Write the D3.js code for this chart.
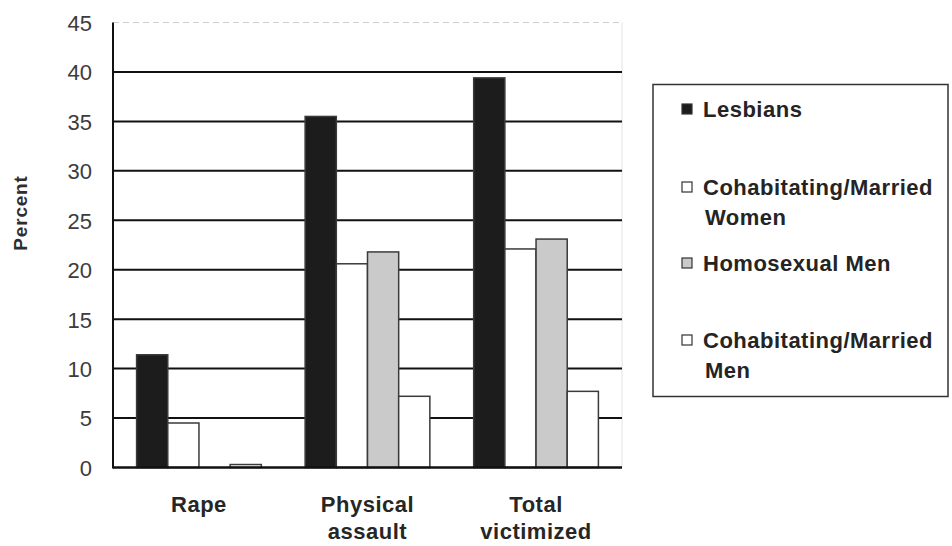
<!DOCTYPE html>
<html>
<head>
<meta charset="utf-8">
<script src="https://cdn.jsdelivr.net/npm/d3@7/dist/d3.min.js"></script>
<style>
  html, body { margin: 0; padding: 0; background: #fff; }
  svg { display: block; }
  .tick text { font-family: "Liberation Sans", Arial, sans-serif; }
</style>
</head>
<body>
<svg id="chart" width="952" height="546"></svg>
<script>
// Victimization by partner type, percent
const categories = ["Rape", "Physical assault", "Total victimized"];
const categoryLines = [["Rape"], ["Physical", "assault"], ["Total", "victimized"]];
const seriesNames = ["Lesbians", "Cohabitating/Married Women", "Homosexual Men", "Cohabitating/Married Men"];
const legendLines = [["Lesbians"], ["Cohabitating/Married", "Women"], ["Homosexual Men"], ["Cohabitating/Married", "Men"]];
const lesbians = [11.4, 35.5, 39.4];
const cohabWomen = [4.5, 20.6, 22.1];
const homosexualMen = [0, 21.8, 23.1];
const cohabMen = [0.3, 7.2, 7.7];
const yTicks = [0, 5, 10, 15, 20, 25, 30, 35, 40, 45];
const seriesValues = [lesbians, cohabWomen, homosexualMen, cohabMen];
const seriesFill = ["#1c1c1c", "#ffffff", "#cacaca", "#ffffff"];

const svg = d3.select("#chart");
const plot = { left: 113, right: 622, top: 22.5, bottom: 467.5 };

const y = d3.scaleLinear().domain([0, 45]).range([plot.bottom, plot.top]);
const x0 = d3.scaleBand().domain(categories)
  .range([plot.left, plot.right]).paddingInner(0.26).paddingOuter(0.14);
const x1 = d3.scaleBand().domain(seriesNames).range([0, x0.bandwidth()]).padding(0);

const font = "Liberation Sans, Arial, sans-serif";

// faint right border of plot area
svg.append("line")
  .attr("x1", plot.right).attr("x2", plot.right)
  .attr("y1", plot.top).attr("y2", plot.bottom)
  .attr("stroke", "#e2e2e2").attr("stroke-width", 1);

// horizontal gridlines
svg.append("g").selectAll("line")
  .data(yTicks.filter(t => t > 0))
  .join("line")
  .attr("x1", plot.left).attr("x2", plot.right)
  .attr("y1", d => y(d)).attr("y2", d => y(d))
  .attr("stroke", d => d === 45 ? "#cfcfcf" : "#111")
  .attr("stroke-dasharray", d => d === 45 ? "6,4" : null)
  .attr("stroke-width", d => d === 45 ? 1 : 2);

// bars
const rows = [];
categories.forEach((c, i) => {
  seriesNames.forEach((s, j) => rows.push({ cat: c, series: s, j, value: seriesValues[j][i] }));
});
svg.append("g").selectAll("rect")
  .data(rows.filter(d => d.value > 0))
  .join("rect")
  .attr("x", d => x0(d.cat) + x1(d.series))
  .attr("y", d => y(d.value))
  .attr("width", x1.bandwidth())
  .attr("height", d => y(0) - y(d.value))
  .attr("fill", d => seriesFill[d.j])
  .attr("stroke", "#3a3a3a")
  .attr("stroke-width", 1.5);

// axes lines
svg.append("line")
  .attr("x1", plot.left).attr("x2", plot.left)
  .attr("y1", plot.top).attr("y2", plot.bottom + 1)
  .attr("stroke", "#111").attr("stroke-width", 2);
svg.append("line")
  .attr("x1", plot.left).attr("x2", plot.right)
  .attr("y1", plot.bottom).attr("y2", plot.bottom)
  .attr("stroke", "#111").attr("stroke-width", 2.5);

// y tick labels
const yAxis = svg.append("g")
  .attr("transform", `translate(${plot.left - 21},0)`)
  .call(d3.axisLeft(y).tickValues(yTicks).tickSize(0).tickPadding(0));
yAxis.select(".domain").remove();
yAxis.selectAll("text")
  .attr("font-size", 22).attr("fill", "#3c3c3c").attr("dy", "0.36em");

// y axis title
svg.append("text")
  .attr("transform", "translate(27,213) rotate(-90)")
  .attr("text-anchor", "middle")
  .attr("font-family", font)
  .attr("font-weight", "bold").attr("font-size", 19)
  .attr("letter-spacing", 0.8)
  .attr("fill", "#2e2e2e")
  .text("Percent");

// category labels
const catG = svg.append("g");
categories.forEach((c, i) => {
  const cx = x0(c) + x0.bandwidth() / 2;
  const t = catG.append("text")
    .attr("x", cx)
    .attr("y", 512)
    .attr("text-anchor", "middle")
    .attr("font-family", font)
    .attr("font-weight", "bold").attr("font-size", 22)
    .attr("letter-spacing", 0.5)
    .attr("fill", "#262626");
  categoryLines[i].forEach((line, k) => {
    t.append("tspan").attr("x", cx)
      .attr("dy", k === 0 ? 0 : 27).text(line);
  });
});

// legend
const legend = svg.append("g");
legend.append("rect")
  .attr("x", 653).attr("y", 84.5).attr("width", 295).attr("height", 312)
  .attr("fill", "#fff").attr("stroke", "#333").attr("stroke-width", 1.5);
const legendY = [109, 187, 263, 340];
seriesNames.forEach((s, j) => {
  legend.append("rect")
    .attr("x", 682).attr("y", legendY[j] - 5).attr("width", 10).attr("height", 10)
    .attr("fill", seriesFill[j])
    .attr("stroke", "#333").attr("stroke-width", 1.2);
  const t = legend.append("text")
    .attr("x", 703).attr("y", legendY[j] + 7.5)
    .attr("font-family", font)
    .attr("font-weight", "bold").attr("font-size", 22)
    .attr("letter-spacing", 0.5)
    .attr("fill", "#242424");
  legendLines[j].forEach((line, k) => {
    t.append("tspan").attr("x", k === 0 ? 703 : 705).attr("dy", k === 0 ? 0 : 30).text(line);
  });
});
</script>
</body>
</html>
